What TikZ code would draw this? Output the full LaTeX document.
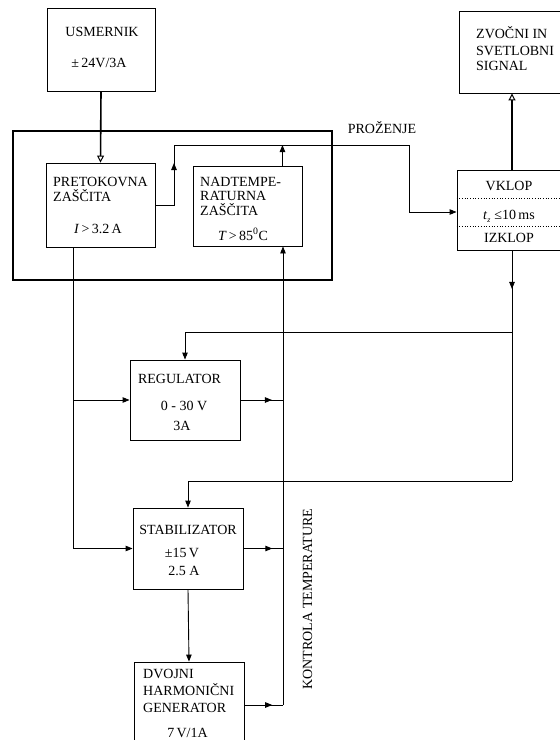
\documentclass[tikz,border=0pt]{standalone}
\usepackage{fontspec}
\setmainfont{Liberation Serif}
\usetikzlibrary{arrows.meta,calc}
\begin{document}
\begin{tikzpicture}[x=1pt,y=-1pt,
  font=\fontsize{14}{16}\selectfont,
  ln/.style={line width=0.9pt},
  blk/.style={draw,line width=0.9pt,inner sep=0pt},
  ar/.style={ln,-{Triangle[length=7pt,width=5.5pt]}},
  oar/.style={-{Triangle[open,length=7pt,width=7pt,line width=1pt]}},
  txt/.style={inner sep=0pt,anchor=base},
  ltxt/.style={inner sep=0pt,anchor=base west}]
\useasboundingbox (0,0) rectangle (560,740);
% boxes
\node[blk,minimum width=108pt,minimum height=83pt] (usm) at (101,49.5) {};
\node[draw,line width=1.6pt,inner sep=0pt,minimum width=319pt,minimum height=149pt] (big) at (172.5,205.5) {};
\node[blk,minimum width=109pt,minimum height=84pt] (pre) at (100.5,205) {};
\node[blk,minimum width=109pt,minimum height=80pt] (nad) at (247.5,206) {};
\node[blk,minimum width=102pt,minimum height=82pt] (zvo) at (510,52) {};
\node[blk,minimum width=104pt,minimum height=80pt] (vkl) at (509,210.5) {};
\node[blk,minimum width=110pt,minimum height=80pt] (reg) at (185,400) {};
\node[blk,minimum width=110pt,minimum height=81pt] (sta) at (188,548.5) {};
\node[blk,minimum width=110pt,minimum height=86pt] (dvo) at (189,705) {};
% texts
\node[txt] (t1) at (102,36) {USMERNIK};
\node[txt] (t2) at (99,67) {±\,24V/3A};
\node[ltxt] (t3) at (53,186.5) {PRETOKOVNA};
\node[ltxt] (t4) at (53,201.5) {ZAŠČITA};
\node[txt] (t5) at (98,233) {\textit{I}\,>\,3.2\,A};
\node[ltxt] (t6) at (200,186.5) {NADTEMPE-};
\node[ltxt] (t7) at (200,200.5) {RATURNA};
\node[ltxt] (t8) at (200,215) {ZAŠČITA};
\node[txt] (t9) at (243,240) {\textit{T}\,>\,85\textsuperscript{0}C};
\node[ltxt] (t10) at (476,38) {ZVOČNI IN};
\node[ltxt] (t11) at (476,55) {SVETLOBNI};
\node[ltxt] (t12) at (476,70) {SIGNAL};
\node[txt] (t13) at (509,190) {VKLOP};
\node[txt] (t14) at (509,219) {\textit{t}\raisebox{-3pt}{\fontsize{8}{8}\selectfont\textit{z}}\;≤10\,ms};
\node[txt] (t15) at (509,242) {IZKLOP};
\node[txt] (t16) at (382,133.5) {PROŽENJE};
\node[txt] (t17) at (179.5,383) {REGULATOR};
\node[txt] (t18) at (184,410) {0 - 30 V};
\node[txt] (t19) at (182,430) {3A};
\node[txt] (t20) at (188,534) {STABILIZATOR};
\node[txt] (t21) at (182,557) {±15\,V};
\node[txt] (t22) at (184,575) {2.5 A};
\node[ltxt] (t23) at (143,678) {DVOJNI};
\node[ltxt] (t24) at (143,695) {HARMONIČNI};
\node[ltxt] (t25) at (143,712) {GENERATOR};
\node[txt] (t26) at (187.5,737) {7\,V/1A};
\node[txt,rotate=90] (t27) at (312,599) {KONTROLA TEMPERATURE};
% dotted separators in VKLOP box
\draw[dotted,line width=0.7pt] (vkl.west |- 0,198.7) -- (vkl.east |- 0,198.7);
\draw[dotted,line width=0.7pt] (vkl.west |- 0,226) -- (vkl.east |- 0,226);
% helper coordinates
\coordinate (p1) at (174,145);
\coordinate (p2) at (409,145);
\coordinate (kx) at (283,0);
\coordinate (lx) at (73,0);
\coordinate (rx) at (512,0);
\coordinate (r1) at (512,332);
\coordinate (s1) at (512,481);
\coordinate (n1) at ($(nad.north east)+(-20,0)$);
\coordinate (vin) at ($(vkl.west)+(0,1.5)$);
% connectors
\draw[oar,line width=1.6pt] (usm.south) -- (pre.north);
\draw[ln] (pre.east) -| (p1) -- (p2);
\draw[ar] (pre.east -| p1) -- ($(pre.east -| p1)!0.7!(p1)$);
\draw[ar] (p2) |- (vin);
\draw[ar] (n1) -- (n1 |- p1);
\draw[oar,line width=1.2pt] (vkl.north -| rx) -- (rx |- zvo.south);
\draw[ln] (vkl.south -| rx) -- (s1);
\draw[ar] (vkl.south -| rx) -- ++(0,38);
\draw[ar] (s1) -| (sta.north);
\draw[ar] (r1) -| (reg.north);
\draw[ln] (pre.south -| lx) -- (lx |- sta.west);
\draw[ar] (lx |- sta.west) -- (sta.west);
\draw[ar] (lx |- reg.west) -- (reg.west);
\draw[ln] (reg.east) -- (reg.east -| kx);
\draw[ar] (reg.east) -- ($(reg.east)!0.74!(reg.east -| kx)$);
\draw[ln] (sta.east) -- (sta.east -| kx);
\draw[ar] (sta.east) -- ($(sta.east)!0.73!(sta.east -| kx)$);
\draw[ln] (dvo.east) -- (dvo.east -| kx);
\draw[ar] (dvo.east) -- ($(dvo.east)!0.72!(dvo.east -| kx)$);
\draw[ar] (dvo.east -| kx) -- (kx |- nad.south);
\draw[ar] (sta.south) -- (dvo.north);
\end{tikzpicture}
\end{document}
